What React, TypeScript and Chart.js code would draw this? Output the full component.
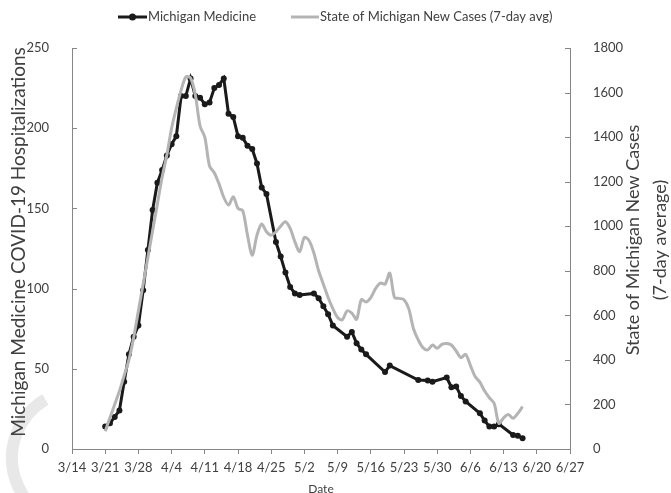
import React, { useEffect, useRef } from "react";
import { Chart, registerables } from "chart.js";

Chart.register(...registerables);

// Day 0 = 3/14
const xTickLabels = ["3/14", "3/21", "3/28", "4/4", "4/11", "4/18", "4/25", "5/2", "5/9", "5/16", "5/23", "5/30", "6/6", "6/13", "6/20", "6/27"];

const hospDays = [7, 8, 9, 10, 11, 12, 13, 14, 15, 16, 17, 18, 19, 20, 21, 22, 23, 24, 25, 26, 27, 28, 29, 30, 31, 32, 33, 34, 35, 36, 37, 38, 39, 40, 41, 43, 44, 45, 46, 47, 48, 51, 52, 53, 54, 55, 58, 59, 60, 61, 62, 66, 67, 73, 75, 76, 79, 80, 81, 82, 83, 86, 87, 88, 89, 90, 93, 94, 95];
const hospValues = [14, 16, 20, 24, 42, 59, 70, 77, 99, 124, 149, 166, 174, 183, 190, 195, 220, 220, 231, 220, 219, 215, 216, 225, 227, 231, 209, 207, 195, 194, 189, 187, 178, 163, 159, 129, 120, 110, 101, 97, 96, 97, 94, 89, 84, 77, 70, 73, 66, 62, 59, 48, 52, 43, 42.7, 42, 44.5, 38.5, 39, 33, 29.6, 22.3, 17.7, 14, 14, 15.5, 8.7, 8.3, 6.7];

const caseDays = [7, 8, 9, 10, 11, 12, 13, 14, 15, 16, 17, 18, 19, 20, 21, 22, 23, 24, 25, 26, 27, 28, 29, 30, 31, 32, 33, 34, 35, 36, 37, 38, 39, 40, 41, 42, 43, 44, 45, 46, 47, 48, 49, 50, 51, 52, 53, 54, 55, 56, 57, 58, 59, 60, 61, 62, 63, 64, 65, 66, 67, 68, 69, 70, 71, 72, 73, 74, 75, 76, 77, 78, 79, 80, 81, 82, 83, 84, 85, 86, 87, 88, 89, 90, 91, 92, 93, 94, 95];
const caseValues = [80, 140, 200, 260, 330, 400, 500, 620, 740, 860, 980, 1100, 1220, 1320, 1440, 1530, 1610, 1670, 1665, 1590, 1450, 1400, 1270, 1240, 1190, 1130, 1095, 1132, 1080, 1070, 960, 870, 960, 1010, 975, 960, 975, 1000, 1020, 990, 930, 886, 950, 935, 880, 800, 740, 680, 630, 590, 580, 620, 610, 582, 670, 660, 680, 720, 745, 740, 790, 680, 676, 670, 630, 540, 490, 455, 445, 467, 452, 470, 474, 467, 440, 410, 425, 375, 325, 300, 260, 230, 205, 115, 140, 155, 138, 160, 190];

const leftTicks = [0, 50, 100, 150, 200, 250];
const rightTicks = [0, 200, 400, 600, 800, 1000, 1200, 1400, 1600, 1800];

const FONT = "Lato, 'Open Sans', sans-serif";
const TEXT = "#404040";
const AXIS = "#868686";

const decorPlugin = {
  id: "decor",
  beforeDraw(chart: any) {
    const ctx = chart.ctx;
    ctx.save();
    ctx.strokeStyle = "#e8e8e8";
    ctx.lineWidth = 12;
    ctx.beginPath();
    ctx.arc(80, 458, 68, 0.62 * Math.PI, 1.33 * Math.PI);
    ctx.stroke();
    ctx.restore();
  },
  afterDraw(chart: any) {
    const ctx = chart.ctx;
    const area = chart.chartArea;
    const yL = chart.scales.y;
    const yR = chart.scales.y2;
    ctx.save();
    // inward tick marks on y axes
    ctx.strokeStyle = AXIS;
    ctx.lineWidth = 1;
    leftTicks.forEach((v) => {
      const py = Math.round(yL.getPixelForValue(v)) + 0.5;
      ctx.beginPath();
      ctx.moveTo(area.left, py);
      ctx.lineTo(area.left + 5, py);
      ctx.stroke();
    });
    rightTicks.forEach((v) => {
      const py = Math.round(yR.getPixelForValue(v)) + 0.5;
      ctx.beginPath();
      ctx.moveTo(area.right - 5, py);
      ctx.lineTo(area.right, py);
      ctx.stroke();
    });

    // legend
    const ly = 17;
    ctx.lineCap = "butt";
    ctx.strokeStyle = "#1a1a1a";
    ctx.lineWidth = 3;
    ctx.beginPath();
    ctx.moveTo(118, ly);
    ctx.lineTo(147, ly);
    ctx.stroke();
    ctx.fillStyle = "#1a1a1a";
    ctx.beginPath();
    ctx.arc(132.5, ly, 3.5, 0, Math.PI * 2);
    ctx.fill();
    ctx.strokeStyle = "#b4b4b4";
    ctx.beginPath();
    ctx.moveTo(291, ly);
    ctx.lineTo(319, ly);
    ctx.stroke();
    ctx.fillStyle = TEXT;
    ctx.font = `13px ${FONT}`;
    ctx.textAlign = "left";
    ctx.textBaseline = "middle";
    ctx.fillText("Michigan Medicine", 148, ly);
    ctx.fillText("State of Michigan New Cases (7-day avg)", 320, ly);

    // axis titles
    ctx.font = `19px ${FONT}`;
    ctx.textAlign = "center";
    ctx.textBaseline = "middle";
    ctx.save();
    ctx.translate(19, 242);
    ctx.rotate(-Math.PI / 2);
    ctx.fillText("Michigan Medicine COVID-19 Hospitalizations", 0, 0);
    ctx.restore();
    ctx.font = `18px ${FONT}`;
    ctx.save();
    ctx.translate(633, 240);
    ctx.rotate(-Math.PI / 2);
    ctx.fillText("State of Michigan New Cases", 0, 0);
    ctx.restore();
    ctx.save();
    ctx.translate(660, 240);
    ctx.rotate(-Math.PI / 2);
    ctx.fillText("(7-day average)", 0, 0);
    ctx.restore();

    ctx.font = `12px ${FONT}`;
    ctx.textBaseline = "top";
    ctx.fillText("Date", (area.left + area.right) / 2, 483);
    ctx.restore();
  },
};

export default function App() {
  const ref = useRef<HTMLCanvasElement | null>(null);

  useEffect(() => {
    if (!ref.current) return;
    const hosp = hospDays.map((d, i) => ({ x: d, y: hospValues[i] }));
    const cases = caseDays.map((d, i) => ({ x: d, y: caseValues[i] }));
    const chart = new Chart(ref.current, {
      type: "line",
      data: {
        datasets: [
          {
            label: "Michigan Medicine",
            data: hosp,
            yAxisID: "y",
            borderColor: "#1a1a1a",
            backgroundColor: "#1a1a1a",
            borderWidth: 3,
            pointRadius: 3,
            pointBorderWidth: 0,
            pointBackgroundColor: "#1a1a1a",
            tension: 0,
            order: 1,
          },
          {
            label: "State of Michigan New Cases (7-day avg)",
            data: cases,
            yAxisID: "y2",
            borderColor: "#b4b4b4",
            backgroundColor: "#b4b4b4",
            borderWidth: 3,
            pointRadius: 0,
            tension: 0.3,
            order: 0,
          },
        ],
      },
      options: {
        animation: false,
        responsive: false,
        devicePixelRatio: 1,
        layout: { padding: { top: 48, left: 0, right: 0, bottom: 0 } },
        plugins: {
          legend: { display: false },
          tooltip: { enabled: false },
        },
        scales: {
          x: {
            type: "linear",
            min: 0,
            max: 105,
            ticks: {
              stepSize: 7,
              padding: 6,
              color: TEXT,
              font: { family: FONT, size: 13 },
              maxRotation: 0,
              autoSkip: false,
              callback: (v: any) => xTickLabels[Math.round(Number(v) / 7)] ?? "",
            },
            grid: { display: true, drawOnChartArea: false, drawTicks: true, tickLength: 5, color: AXIS },
            border: { display: true, color: AXIS, width: 1 },
            afterFit: (s: any) => { s.height = 44; },
          },
          y: {
            type: "linear",
            position: "left",
            min: 0,
            max: 250,
            ticks: {
              stepSize: 50,
              padding: 15,
              color: TEXT,
              font: { family: FONT, size: 13 },
              callback: (v: any) => String(v),
            },
            grid: { display: false },
            border: { display: true, color: AXIS, width: 1 },
            afterFit: (s: any) => { s.width = 72; },
          },
          y2: {
            type: "linear",
            position: "right",
            min: 0,
            max: 1800,
            ticks: {
              stepSize: 200,
              padding: 15,
              color: TEXT,
              font: { family: FONT, size: 13 },
              callback: (v: any) => String(v),
            },
            grid: { display: false },
            border: { display: true, color: AXIS, width: 1 },
            afterFit: (s: any) => { s.width = 101; },
          },
        },
      },
      plugins: [decorPlugin],
    });
    return () => chart.destroy();
  }, []);

  return (
    <div style={{ position: "fixed", left: 0, top: 0, width: 671, height: 493, background: "#fff" }}>
      <canvas ref={ref} width={671} height={493} style={{ display: "block" }} />
    </div>
  );
}
